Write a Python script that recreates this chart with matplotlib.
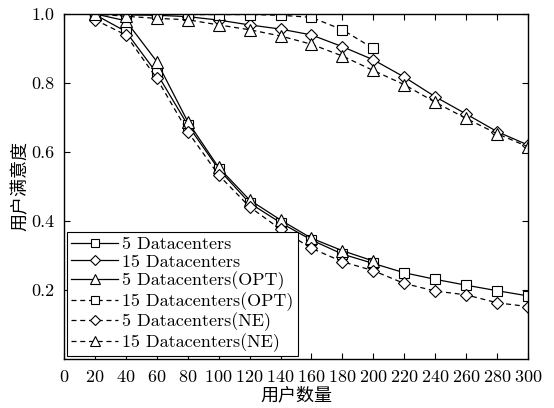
import numpy as np
import matplotlib
matplotlib.use("Agg")
import matplotlib.pyplot as plt

plt.rcParams["font.family"] = ["cmr10", "DejaVu Serif"]
plt.rcParams["axes.formatter.use_mathtext"] = True

users = [20, 40, 60, 80, 100, 120, 140, 160, 180, 200, 220, 240, 260, 280, 300]
users_opt = users[:10]

dc5 = [0.998, 0.949, 0.828, 0.678, 0.550, 0.452, 0.395, 0.345, 0.304, 0.277,
       0.250, 0.231, 0.214, 0.198, 0.183]
dc15 = [1.0, 0.997, 0.996, 0.992, 0.982, 0.968, 0.956, 0.939, 0.905, 0.867,
        0.817, 0.760, 0.710, 0.659, 0.620]
dc5_opt = [1.0, 0.980, 0.862, 0.688, 0.555, 0.461, 0.403, 0.350, 0.314, 0.284]
dc15_opt = [1.0, 0.999, 0.999, 0.998, 0.998, 0.998, 0.996, 0.990, 0.954, 0.900]
dc5_ne = [0.983, 0.939, 0.813, 0.659, 0.533, 0.441, 0.376, 0.321, 0.282, 0.256,
          0.219, 0.197, 0.186, 0.163, 0.152]
dc15_ne = [1.0, 0.993, 0.987, 0.983, 0.968, 0.954, 0.936, 0.912, 0.878, 0.836,
           0.795, 0.744, 0.697, 0.653, 0.615]

fig = plt.figure(figsize=(5.54, 4.08), dpi=100)
ax = fig.add_axes([0.1155, 0.120, 0.8375, 0.846])

style = dict(color="black", lw=0.9, mfc="white", mec="black", mew=0.8, ms=7)
dash = (0, (4, 3))
ax.plot(users, dc5, marker="s", ls="-", label="5 Datacenters", **style)
ax.plot(users, dc15, marker="D", ls="-", label="15 Datacenters", **{**style, "ms": 6})
ax.plot(users_opt, dc5_opt, marker="^", ls="-", label="5 Datacenters(OPT)",
        **{**style, "ms": 8})
ax.plot(users_opt, dc15_opt, marker="s", ls=dash, label="15 Datacenters(OPT)", **style)
ax.plot(users, dc5_ne, marker="D", ls=dash, label="5 Datacenters(NE)",
        **{**style, "ms": 6})
ax.plot(users, dc15_ne, marker="^", ls=dash, label="15 Datacenters(NE)",
        **{**style, "ms": 8})

ax.set_xlim(0, 300)
ax.set_ylim(0, 1.0)
ax.set_xticks(np.arange(0, 301, 20))
ax.set_yticks([0.2, 0.4, 0.6, 0.8, 1.0])
ax.set_yticklabels(["0.2", "0.4", "0.6", "0.8", "1.0"])
ax.tick_params(direction="in", top=True, right=True, labelsize=13, length=4, pad=7)
for s in ax.spines.values():
    s.set_linewidth(1.0)

ax.set_xlabel("用户数量", family=["Noto Sans CJK SC"], fontsize=13, labelpad=1)
ax.set_ylabel("用户满意度", family=["Noto Sans CJK SC"], fontsize=13, labelpad=1)

leg = ax.legend(loc="lower left", bbox_to_anchor=(0.006, 0.008), borderaxespad=0,
                fontsize=13, fancybox=False, edgecolor="black", framealpha=1,
                handlelength=2.6, labelspacing=0.1, handletextpad=0.2,
                borderpad=0.25, markerscale=0.85)
leg.get_frame().set_linewidth(0.8)

fig.savefig("out.png", dpi=100)
